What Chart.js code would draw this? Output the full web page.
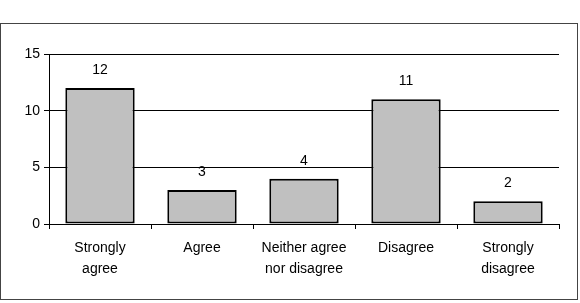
<!DOCTYPE html>
<html>
<head>
<meta charset="utf-8">
<script src="https://cdn.jsdelivr.net/npm/chart.js@4"></script>
<style>
  html, body { margin: 0; padding: 0; background: #fff; }
  .frame {
    position: absolute;
    left: 0; top: 23px;
    width: 576px; height: 275px;
    border: 1px solid #444;
  }
</style>
</head>
<body>
<div class="frame"><canvas id="chart" width="576" height="275"></canvas></div>
<script>
const categories = [['Strongly', 'agree'], 'Agree', ['Neither agree', 'nor disagree'], 'Disagree', ['Strongly', 'disagree']];
const responses = [12, 3, 4, 11, 2];
const yTicks = [0, 5, 10, 15];

const valueLabels = {
  id: 'valueLabels',
  afterDatasetsDraw(chart) {
    const { ctx } = chart;
    const meta = chart.getDatasetMeta(0);
    ctx.save();
    ctx.font = '14px Arial, "Liberation Sans", sans-serif';
    ctx.fillStyle = '#000';
    ctx.textAlign = 'center';
    ctx.textBaseline = 'middle';
    meta.data.forEach((bar, i) => {
      ctx.fillText(String(responses[i]), bar.x, bar.y - 18);
    });
    ctx.restore();
  },
};

new Chart(document.getElementById('chart'), {
  type: 'bar',
  data: {
    labels: categories,
    datasets: [{
      data: responses,
      backgroundColor: '#c0c0c0',
      borderColor: '#000',
      borderWidth: 2,
      borderSkipped: false,
      barPercentage: 0.68,
      categoryPercentage: 1,
    }],
  },
  options: {
    responsive: false,
    animation: false,
    layout: { padding: { top: 30, right: 18, left: 0, bottom: 0 } },
    plugins: { legend: { display: false }, tooltip: { enabled: false } },
    scales: {
      x: {
        afterFit: (scale) => { scale.height = 75; },
        grid: { offset: true, drawOnChartArea: false, drawTicks: true, tickLength: 5, color: '#000' },
        border: { color: '#000', width: 1 },
        ticks: {
          color: '#000',
          padding: 9,
          maxRotation: 0,
          font: { family: 'Arial, "Liberation Sans", sans-serif', size: 14, lineHeight: 1.5 },
        },
      },
      y: {
        min: 0,
        max: 15,
        afterFit: (scale) => { scale.width = 48; },
        afterBuildTicks: (scale) => { scale.ticks = yTicks.map((v) => ({ value: v })); },
        grid: { color: '#000', lineWidth: 1, tickLength: 5 },
        border: { color: '#000', width: 1 },
        ticks: {
          color: '#000',
          padding: 4,
          font: { family: 'Arial, "Liberation Sans", sans-serif', size: 14 },
        },
      },
    },
  },
  plugins: [valueLabels],
});
</script>
</body>
</html>
